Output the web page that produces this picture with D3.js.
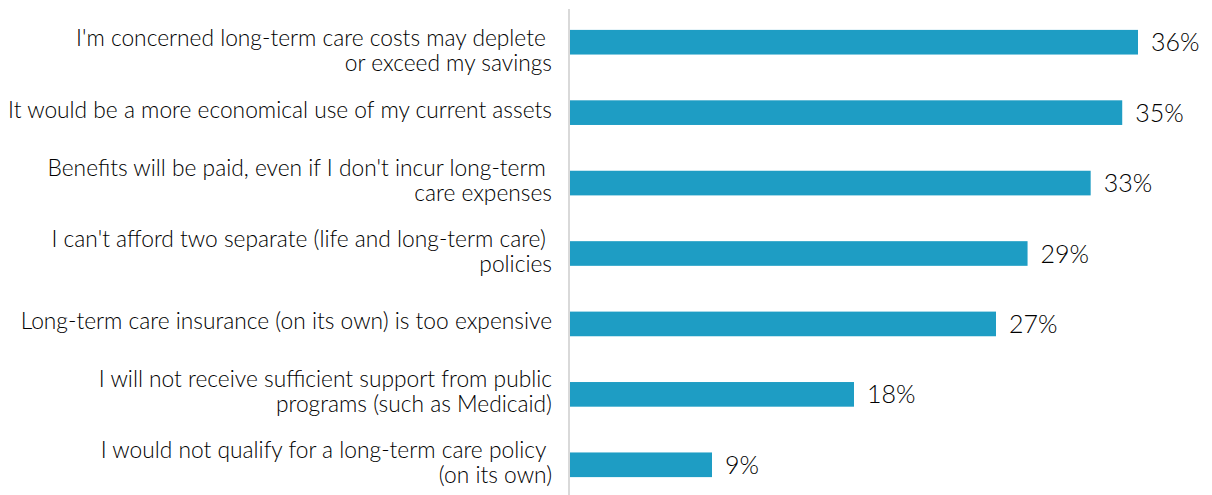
<!DOCTYPE html>
<html>
<head>
<meta charset="utf-8">
<script src="https://cdn.jsdelivr.net/npm/d3@7"></script>
<style>
  html, body { margin: 0; padding: 0; background: #ffffff; }
  svg { display: block; }
  .cat text { white-space: pre; }
</style>
</head>
<body>
<svg id="chart" width="1212" height="495"></svg>
<script>
// Reasons for choosing a combined life / long-term care policy
const categories = [
  ["I'm concerned long-term care costs may deplete ", "or exceed my savings"],
  ["It would be a more economical use of my current assets"],
  ["Benefits will be paid, even if I don't incur long-term ", "care expenses"],
  ["I can't afford two separate (life and long-term care) ", "policies"],
  ["Long-term care insurance (on its own) is too expensive"],
  ["I will not receive sufficient support from public", "programs (such as Medicaid)"],
  ["I would not qualify for a long-term care policy ", "(on its own)"]
];
const values = [36, 35, 33, 29, 27, 18, 9];
const valueLabels = ["36%", "35%", "33%", "29%", "27%", "18%", "9%"];

const svg = d3.select("#chart");
const W = 1212, H = 495;
const x0 = 570;
const labelRight = 552;
const fontFamily = "Lato, 'Open Sans', sans-serif";

const keys = categories.map((c, i) => i);

const x = d3.scaleLinear().domain([0, 36]).range([x0, 1138]);
const y = d3.scaleBand().domain(keys).range([7, 500])
  .paddingInner(0.65).paddingOuter(0.325);

// bars
svg.append("g").selectAll("rect")
  .data(keys)
  .join("rect")
  .attr("x", x(0))
  .attr("y", d => y(d))
  .attr("width", d => x(values[d]) - x(0))
  .attr("height", y.bandwidth())
  .attr("fill", "#1e9dc4");

// vertical axis line
svg.append("line")
  .attr("x1", 569).attr("x2", 569)
  .attr("y1", 9).attr("y2", H)
  .attr("stroke", "#cccccc")
  .attr("stroke-width", 1.5);

// value labels
svg.append("g").selectAll("text")
  .data(keys)
  .join("text")
  .attr("x", d => x(values[d]) + 13)
  .attr("y", d => y(d) + y.bandwidth() / 2)
  .attr("dy", "0.36em")
  .attr("font-family", fontFamily)
  .attr("font-weight", 300)
  .attr("font-size", 25)
  .attr("fill", "#000000")
  .text(d => valueLabels[d]);

// category labels, right aligned, one or two lines
const lineGap = 25;
const catG = svg.append("g").attr("class", "cat")
  .attr("font-family", fontFamily)
  .attr("font-weight", 300)
  .attr("font-size", 20)
  .attr("fill", "#000000")
  .attr("text-anchor", "end");

// keep the first line from rising above the top bar
const minBaseline = y(keys[0]) + 16;

const labels = catG.selectAll("text")
  .data(keys)
  .join("text")
  .attr("x", labelRight)
  .attr("y", d => {
    const c = y(d) + y.bandwidth() / 2;
    const base = categories[d].length === 1 ? c + 5 : c - 7;
    return Math.max(base, minBaseline);
  });

labels.selectAll("tspan")
  .data(d => categories[d])
  .join("tspan")
  .attr("x", labelRight)
  .attr("dy", (t, i) => i === 0 ? 0 : lineGap)
  .text(t => t);

// fit the label font so the longest line spans the available width
let maxW = 0;
labels.selectAll("tspan").each(function () {
  maxW = Math.max(maxW, this.getComputedTextLength());
});
const targetW = labelRight - 8;
if (maxW > 0) catG.attr("font-size", 20 * targetW / maxW);
</script>
</body>
</html>
